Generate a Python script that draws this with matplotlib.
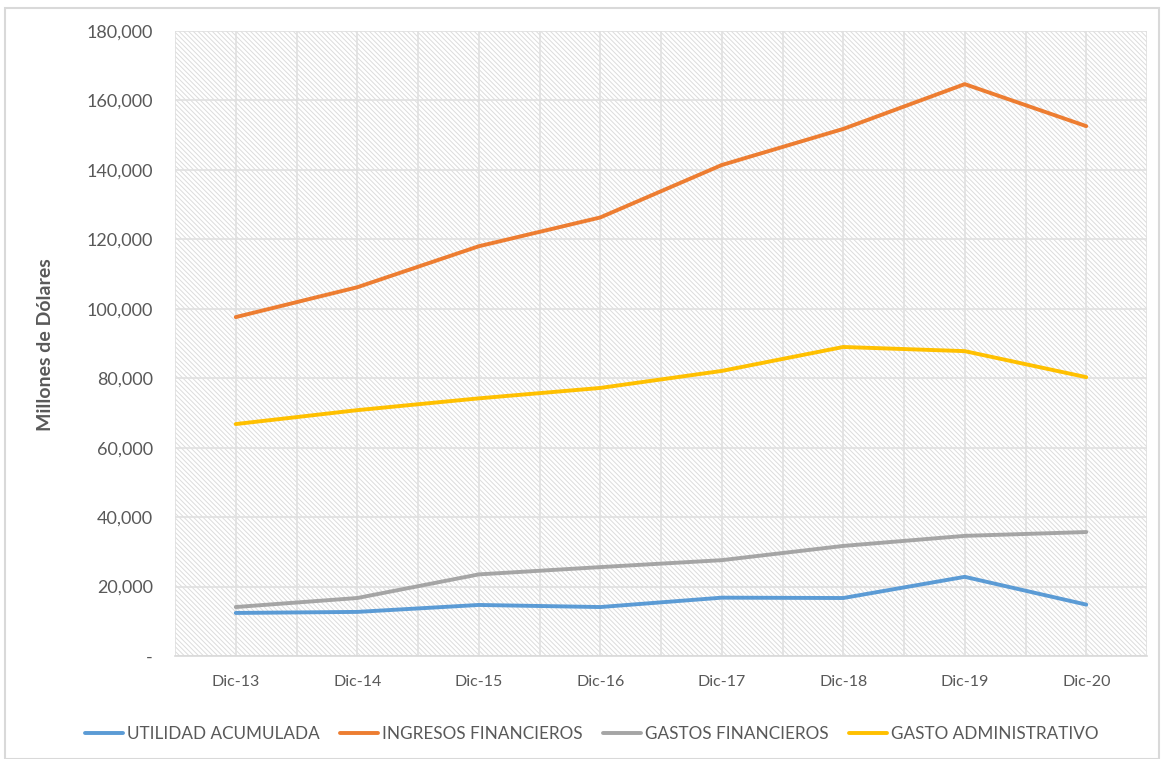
import matplotlib
matplotlib.use("Agg")
import matplotlib.pyplot as plt
from matplotlib.patches import Rectangle
from matplotlib.ticker import FuncFormatter, MultipleLocator

categories = ["Dic-13", "Dic-14", "Dic-15", "Dic-16", "Dic-17", "Dic-18", "Dic-19", "Dic-20"]
utilidad = [12400, 12700, 14700, 14100, 16800, 16700, 22800, 14800]
ingresos = [97600, 106200, 118000, 126300, 141400, 151800, 164700, 152600]
gastos_fin = [14100, 16700, 23500, 25600, 27600, 31700, 34600, 35700]
gasto_adm = [66800, 70800, 74200, 77200, 82100, 89000, 87800, 80300]

series_names = ["UTILIDAD ACUMULADA", "INGRESOS FINANCIEROS", "GASTOS FINANCIEROS", "GASTO ADMINISTRATIVO"]
colors = ["#5B9BD5", "#ED7D31", "#A5A5A5", "#FFC000"]

plt.rcParams['font.family'] = ['Lato', 'DejaVu Sans']
plt.rcParams['hatch.linewidth'] = 0.7
plt.rcParams['hatch.color'] = '#dcdcdc'

fig = plt.figure(figsize=(11.64, 7.59), dpi=100)
fig.patches.append(Rectangle((5/1164, 0.0), 1 - 10/1164, 1 - 8/759, transform=fig.transFigure,
                             fill=False, edgecolor='#d9d9d9', linewidth=1.5))
ax = fig.add_axes([175/1164, 1 - 656/759, (1147 - 175)/1164, (656 - 31)/759])
ax.set_facecolor('white')
ax.add_patch(Rectangle((0, 0), 1, 1, transform=ax.transAxes, facecolor='white',
                       edgecolor='#dcdcdc', hatch='\\\\\\\\\\\\\\', linewidth=0, zorder=0))

x = list(range(len(categories)))
for vals, name, c in zip([utilidad, ingresos, gastos_fin, gasto_adm], series_names, colors):
    ax.plot(x, vals, color=c, linewidth=2.8, label=name, zorder=3, solid_capstyle='round')

ax.set_xlim(-0.5, len(categories) - 0.5)
ax.set_ylim(0, 180000)
ax.yaxis.set_major_locator(MultipleLocator(20000))
ax.yaxis.set_major_formatter(FuncFormatter(lambda v, p: "-" if v == 0 else f"{int(v):,}"))
ax.set_xticks(x)
ax.set_xticklabels(categories)
ax.set_xticks([i + 0.5 for i in range(-1, len(categories))], minor=True)
ax.grid(True, which='major', color='#e0e0e0', linewidth=1.2, zorder=1)
ax.grid(True, which='minor', axis='x', color='#e0e0e0', linewidth=1.2, zorder=1)
ax.set_axisbelow(True)
ax.tick_params(axis='both', which='both', length=0, colors='#595959')
ax.tick_params(axis='y', labelsize=13, pad=16)
ax.tick_params(axis='x', labelsize=11.5, pad=14)
for s in ax.spines.values():
    s.set_color('#d9d9d9')
    s.set_linewidth(1.2)
ax.spines['left'].set_visible(False)
ax.spines['top'].set_visible(False)
ax.spines['right'].set_visible(False)

fig.text(46/1164, 1 - 345/759, "Millones de Dólares", rotation=90, ha='center', va='center',
         fontsize=14, fontweight='bold', color='#595959')

fig.legend(loc='center', bbox_to_anchor=(592/1164, 1 - 734/759), ncol=4, frameon=False,
           fontsize=12.3, labelcolor='#595959', handlelength=2.2, handletextpad=0.25,
           columnspacing=1.2)

fig.savefig("out.png", dpi=100)
